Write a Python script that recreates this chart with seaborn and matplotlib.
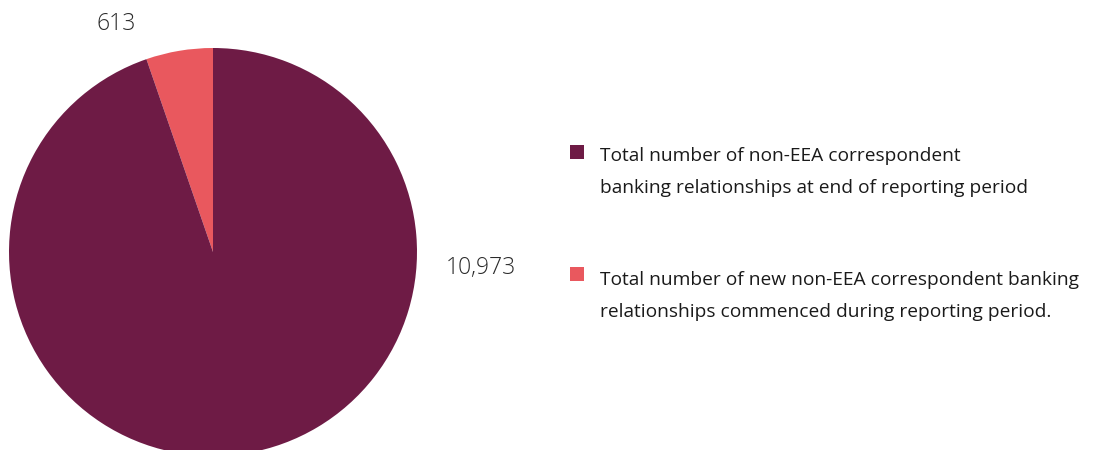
import matplotlib
matplotlib.use("Agg")
import matplotlib.pyplot as plt
from matplotlib.patches import Rectangle
import seaborn as sns

# values
labels = [
    "Total number of new non-EEA correspondent banking\nrelationships commenced during reporting period.",
    "Total number of non-EEA correspondent\nbanking relationships at end of reporting period",
]
values = [613, 10973]
value_text = ["613", "10,973"]
colors = ["#E9585E", "#6E1B45"]

sns.set_theme(style="white")
plt.rcParams["font.family"] = ["Open Sans", "DejaVu Sans"]

fig = plt.figure(figsize=(11.16, 4.5), dpi=100)
ax = fig.add_axes([0, 0, 1, 1])

# pie in pixel coordinates (bottom of the pie is clipped by the frame, as in the reference)
wedges, _ = ax.pie(values, colors=colors, startangle=90, counterclock=True,
                   center=(213, 198), radius=204, frame=True,
                   wedgeprops=dict(linewidth=0))
ax.set_xlim(0, 1116)
ax.set_ylim(0, 450)
ax.set_aspect("equal")
ax.axis("off")

ax.text(116, 426, value_text[0], fontsize=16.5, fontweight="light",
        color="#2a2a2a", ha="center", va="center")
ax.text(481, 182, value_text[1], fontsize=16.5, fontweight="light",
        color="#2a2a2a", ha="center", va="center")

# legend, drawn by hand: large entry first
legend_rows = [(labels[1], colors[1], 305, 0), (labels[0], colors[0], 183, 2)]
for text, col, top, nudge in legend_rows:
    ax.add_patch(Rectangle((570, top - 14), 14, 14, color=col, lw=0))
    ax.text(600, top - 2 - nudge, text, fontsize=13.8, color="#1a1a1a",
            ha="left", va="top", linespacing=2.0)

fig.savefig("out.png", dpi=100)
